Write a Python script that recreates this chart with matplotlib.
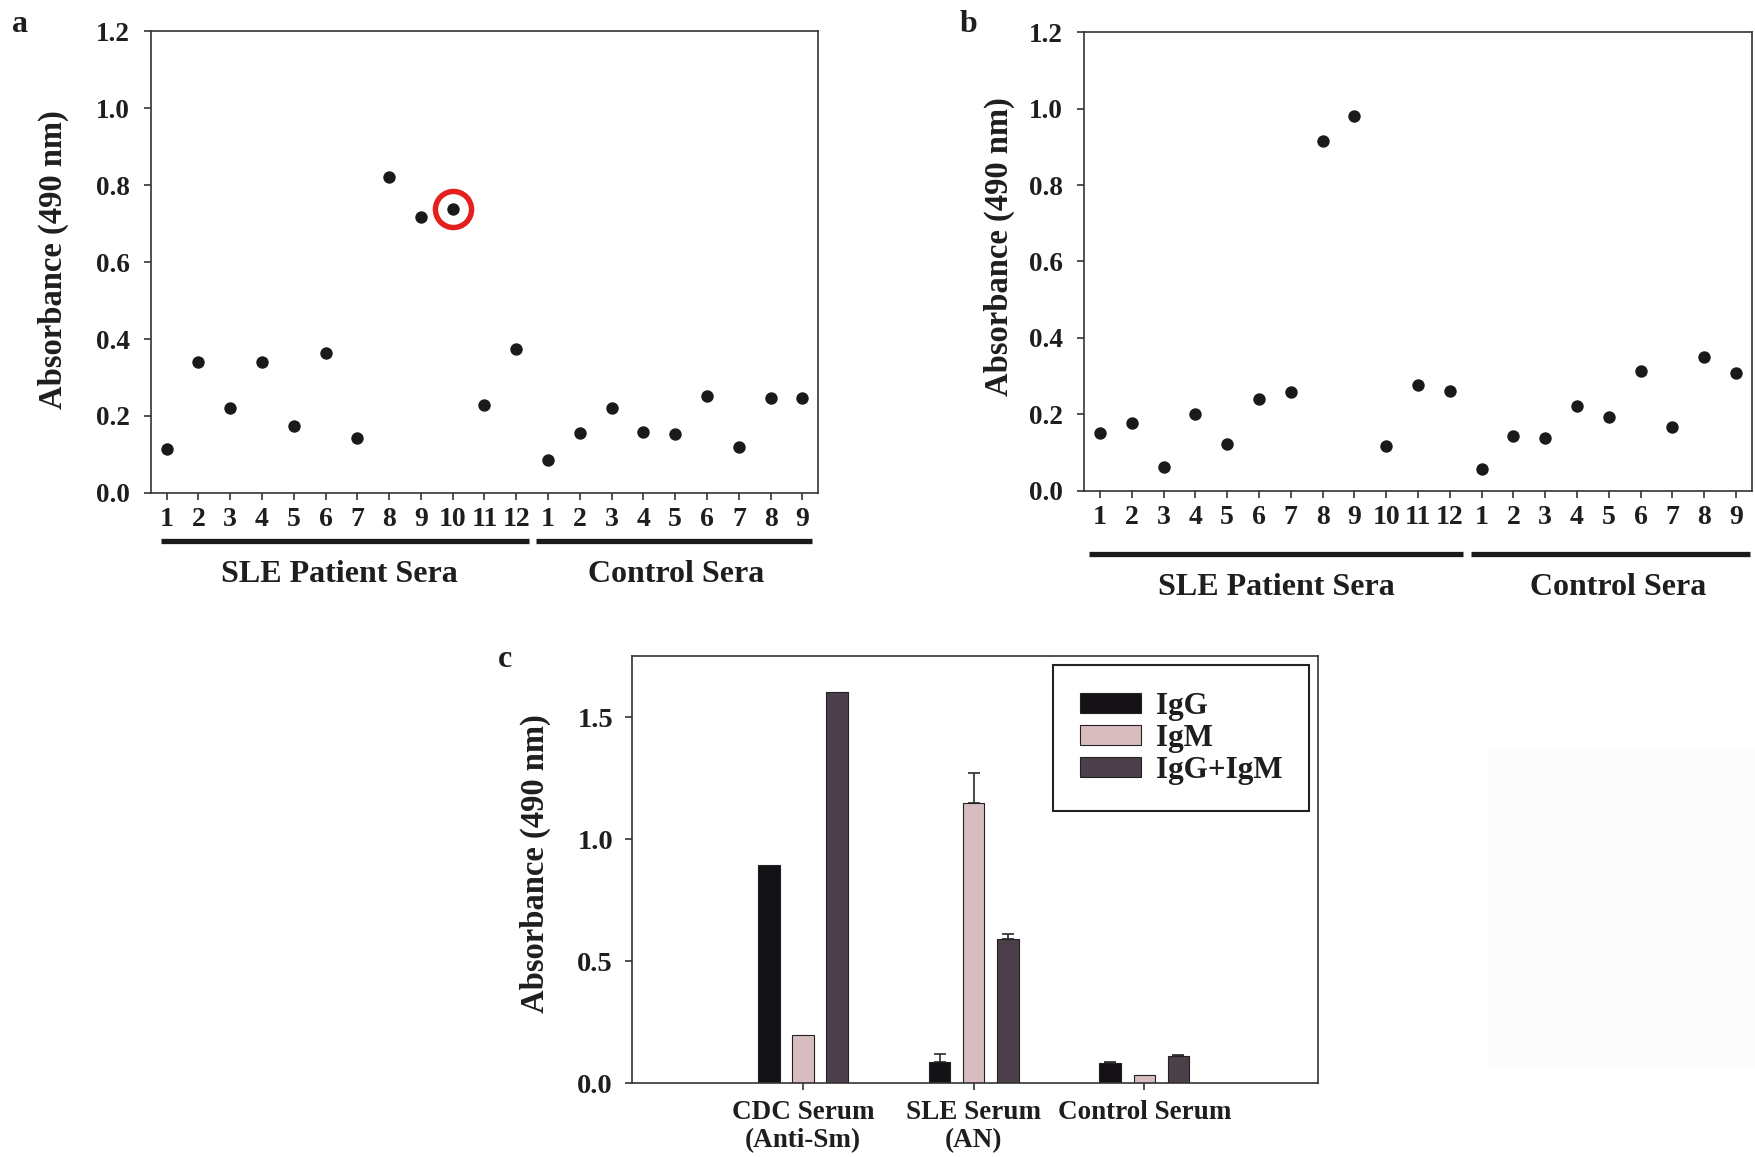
import numpy as np
import matplotlib
matplotlib.use("Agg")
import matplotlib.pyplot as plt
import matplotlib.transforms as mtransforms
from matplotlib.patches import Rectangle

plt.rcParams['font.family'] = ['Liberation Serif', 'DejaVu Serif']
plt.rcParams['font.weight'] = 'bold'
plt.rcParams['axes.labelweight'] = 'bold'

TXT = '#1e1e1e'

# ---------------- data ----------------
sle_labels = [str(i) for i in range(1, 13)]
ctrl_labels = [str(i) for i in range(1, 10)]

a_sle = [0.115, 0.341, 0.220, 0.341, 0.175, 0.363, 0.142, 0.820, 0.718, 0.737, 0.229, 0.375]
a_ctrl = [0.086, 0.157, 0.220, 0.159, 0.153, 0.252, 0.120, 0.248, 0.248]
a_highlight = 10  # SLE patient #10 circled

b_sle = [0.151, 0.178, 0.063, 0.202, 0.122, 0.239, 0.258, 0.915, 0.980, 0.117, 0.277, 0.261]
b_ctrl = [0.058, 0.143, 0.137, 0.222, 0.193, 0.313, 0.166, 0.349, 0.308]

c_groups = ['CDC Serum\n(Anti-Sm)', 'SLE Serum\n(AN)', 'Control Serum']
c_series = ['IgG', 'IgM', 'IgG+IgM']
c_igg = [0.893, 0.089, 0.082]
c_igm = [0.196, 1.147, 0.034]
c_both = [1.603, 0.593, 0.110]
c_igg_err = [0.0, 0.032, 0.004]
c_igm_err = [0.0, 0.126, 0.0]
c_both_err = [0.0, 0.018, 0.004]

# ---------------- figure ----------------
fig = plt.figure(figsize=(17.56, 11.57), dpi=100)
fig.patch.set_facecolor('white')

# faint scan artifact at right of panel c
fig.patches.append(Rectangle((1488 / 1756, 1 - 1070 / 1157), 1 - 1488 / 1756, (1070 - 747) / 1157,
                             transform=fig.transFigure, facecolor='#fcfcfc', edgecolor='none', zorder=0))

ax_a = fig.add_axes([0.0858, 0.5739, 0.3802, 0.3993])
ax_b = fig.add_axes([0.6173, 0.5759, 0.3804, 0.3962])
ax_c = fig.add_axes([0.3601, 0.0637, 0.3907, 0.3696])


def style_axes(ax, ytick_size, xtick_size):
    for sp in ax.spines.values():
        sp.set_linewidth(1.2)
        sp.set_color('#333333')
    ax.tick_params(axis='both', direction='out', length=5, width=1.2, color='#333333',
                   top=False, right=False)
    ax.tick_params(axis='y', labelsize=ytick_size, pad=10, labelcolor=TXT)
    ax.tick_params(axis='x', labelsize=xtick_size, pad=5, labelcolor=TXT)


def scatter_panel(ax, sle, ctrl, bar_y, text_y, sle_span, ctrl_span, sle_tx, ctrl_tx, ylab_x, ylab_y):
    vals = list(sle) + list(ctrl)
    x = np.arange(1, len(vals) + 1)
    ax.scatter(x, vals, s=80, color='#1a1a1a', zorder=3, linewidths=0)
    ax.set_xlim(0.5, len(vals) + 0.5)
    ax.set_ylim(0, 1.2)
    ax.set_yticks(np.arange(0, 1.21, 0.2))
    ax.set_yticklabels([f'{v:.1f}' for v in np.arange(0, 1.21, 0.2)])
    ax.set_xticks(x)
    ax.set_xticklabels(sle_labels + ctrl_labels)
    style_axes(ax, 19.5, 20)
    ax.set_ylabel('Absorbance (490 nm)', fontsize=23.5, color=TXT)
    ax.yaxis.set_label_coords(ylab_x, ylab_y)
    trans = mtransforms.blended_transform_factory(ax.transData, ax.transAxes)
    for span in (sle_span, ctrl_span):
        ax.plot(span, [bar_y, bar_y], transform=trans, color='#1a1a1a', lw=3.8,
                solid_capstyle='butt', clip_on=False)
    ax.text(sle_tx, text_y, 'SLE Patient Sera', transform=trans, ha='center', va='center',
            fontsize=23, color=TXT)
    ax.text(ctrl_tx, text_y, 'Control Sera', transform=trans, ha='center', va='center',
            fontsize=23, color=TXT)
    return x


xa = scatter_panel(ax_a, a_sle, a_ctrl, -0.104, -0.177, (0.82, 12.4), (12.62, 21.3), 6.44, 17.02,
                   -0.122, 0.506)
# red circle around highlighted point
ax_a.plot([xa[a_highlight - 1]], [a_sle[a_highlight - 1]], marker='o', markersize=26,
          markerfacecolor='none', markeredgecolor='#e3201b', markeredgewidth=3.9, zorder=4)

scatter_panel(ax_b, b_sle, b_ctrl, -0.138, -0.212, (0.66, 12.4), (12.68, 21.44), 6.56, 17.3,
              -0.103, 0.532)

# ---------------- panel c ----------------
xc = np.arange(1, len(c_groups) + 1)
w = 0.126
off = 0.2
cols = ['#141216', '#d8bdc0', '#4b3f49']
ek = dict(ecolor='#2a2a2a', elinewidth=1.2, capsize=4.3, capthick=1.2)
for i, (vals, errs, col, lab) in enumerate(zip([c_igg, c_igm, c_both],
                                               [c_igg_err, c_igm_err, c_both_err],
                                               cols, c_series)):
    pos = xc + (i - 1) * off
    ax_c.bar(pos, vals, width=w, color=col, edgecolor='#222222', linewidth=0.8, label=lab, zorder=2)
    errs_arr = np.array(errs)
    vals_arr = np.array(vals)
    m = errs_arr > 0
    ax_c.errorbar(pos[m], vals_arr[m], yerr=[np.zeros(m.sum()), errs_arr[m]], fmt='none', zorder=1, **ek)

ax_c.set_xlim(0, 4.02)
ax_c.set_ylim(0, 1.752)
ax_c.set_yticks([0.0, 0.5, 1.0, 1.5])
ax_c.set_yticklabels(['0.0', '0.5', '1.0', '1.5'])
ax_c.set_xticks(xc)
ax_c.set_xticklabels(c_groups, linespacing=1.15)
style_axes(ax_c, 20.5, 19.5)
ax_c.tick_params(axis='y', pad=9)
ax_c.tick_params(axis='x', pad=7)
ax_c.set_ylabel('Absorbance (490 nm)', fontsize=23.5, color=TXT)
ax_c.yaxis.set_label_coords(-0.1185, 0.513)

leg = ax_c.legend(loc='upper right', bbox_to_anchor=(0.987, 0.978), fontsize=22.5,
                  handlelength=1.95, handleheight=0.62, handletextpad=0.5, labelspacing=0.1,
                  borderpad=0.85, borderaxespad=0.0, fancybox=False, framealpha=1, edgecolor='#222222')
leg.get_frame().set_linewidth(1.5)
for t in leg.get_texts():
    t.set_color(TXT)

# panel letters
fig.text(12 / 1756, 1 - 32 / 1157, 'a', fontsize=23, ha='left', va='baseline', color=TXT)
fig.text(960 / 1756, 1 - 32 / 1157, 'b', fontsize=23, ha='left', va='baseline', color=TXT)
fig.text(498 / 1756, 1 - 667 / 1157, 'c', fontsize=23, ha='left', va='baseline', color=TXT)

fig.savefig('out.png', dpi=100, facecolor='white')
